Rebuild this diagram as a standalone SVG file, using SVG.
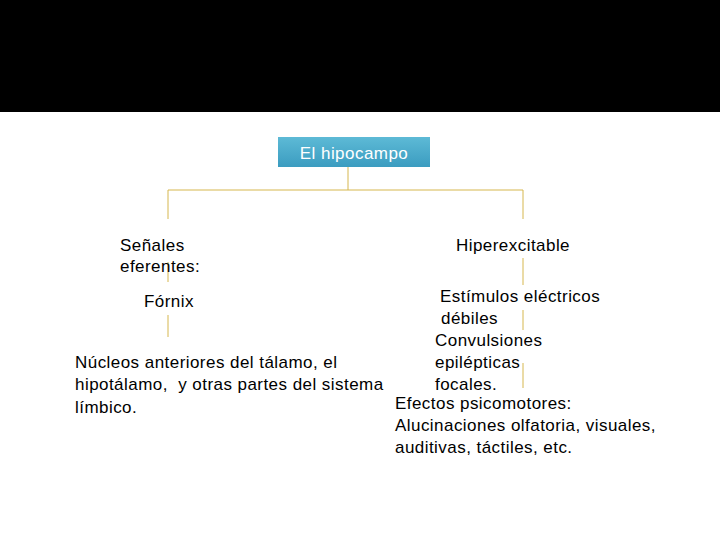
<svg xmlns="http://www.w3.org/2000/svg" width="720" height="540" viewBox="0 0 720 540">
<defs>
<linearGradient id="g" x1="0" y1="0" x2="0" y2="1">
<stop offset="0" stop-color="#5dbad6"/>
<stop offset="1" stop-color="#3b9cc0"/>
</linearGradient>
<style>
.t{font-family:"Liberation Sans",Arial,sans-serif;font-size:17px;letter-spacing:0.45px;fill:#000}
.c{stroke:#d6b74e;stroke-width:1;fill:none}
</style>
</defs>
<rect x="0" y="0" width="720" height="540" fill="#fff"/>
<rect x="0" y="0" width="720" height="112" fill="#000"/>
<g id="connectors">
<path class="c" d="M348 167V190M168 219V190H523V219"/>
<path class="c" d="M168 262V282M168 315V337"/>
<path class="c" d="M523 258V285M523 310V330M523 363V388"/>
</g>
<g id="root">
<rect x="278" y="137" width="152" height="30" fill="url(#g)"/>
<text x="354" y="159" text-anchor="middle" class="t" style="fill:#fff">El hipocampo</text>
</g>
<g id="senales">
<text class="t" x="120" y="251">Señales</text>
<text class="t" x="120" y="272">eferentes:</text>
</g>
<g id="fornix">
<text class="t" x="144" y="307">Fórnix</text>
</g>
<g id="nucleos">
<text class="t" x="75" y="368">Núcleos anteriores del tálamo, el</text>
<text class="t" x="75" y="390" xml:space="preserve">hipotálamo,  y otras partes del sistema</text>
<text class="t" x="75" y="413">límbico.</text>
</g>
<g id="hiper">
<text class="t" x="456" y="251">Hiperexcitable</text>
</g>
<g id="estimulos">
<text class="t" x="440" y="302">Estímulos eléctricos</text>
<text class="t" x="441" y="324">débiles</text>
<text class="t" x="435" y="346">Convulsiones</text>
<text class="t" x="435" y="368">epilépticas</text>
<text class="t" x="435" y="390">focales.</text>
</g>
<g id="efectos">
<text class="t" x="395" y="409">Efectos psicomotores:</text>
<text class="t" x="395" y="431">Alucinaciones olfatoria, visuales,</text>
<text class="t" x="395" y="453">auditivas, táctiles, etc.</text>
</g>
</svg>
